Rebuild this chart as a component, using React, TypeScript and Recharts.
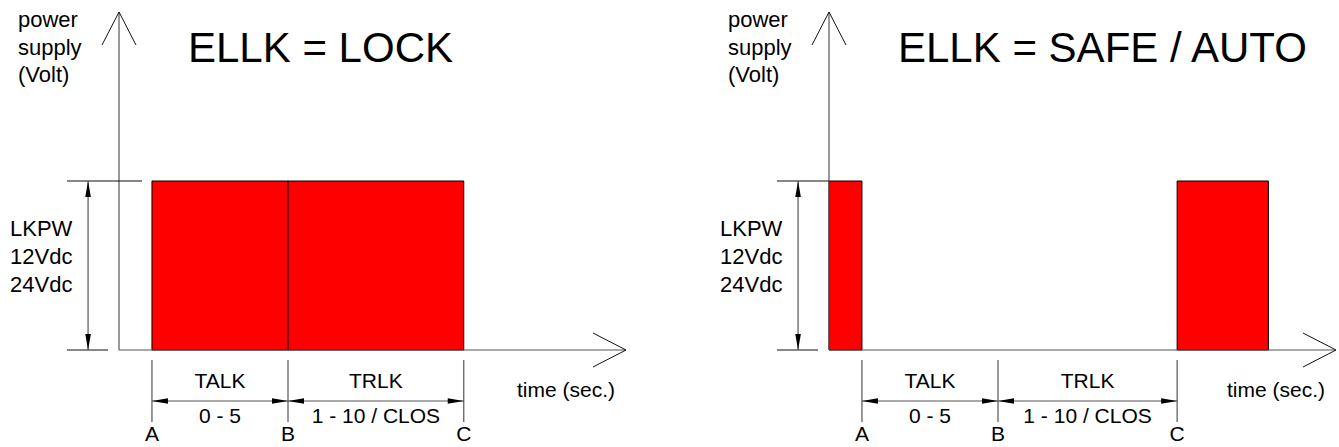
import { ComposedChart, ReferenceArea, ReferenceLine, XAxis, YAxis } from "recharts";

// time axis runs 0..T_MAX, voltage 0..V_MAX, pulse level LEVEL
const T_MAX = 30;
const V_MAX = 24;
const LEVEL = 12;

const MARK_NAMES = ["A", "B", "C"];
const LOCK_MARKS = [1.95, 10, 20.4];
const SAFE_MARKS = [1.95, 10, 20.6];

const LOCK_PULSES = [
  [1.95, 10],
  [10, 20.4],
];
const SAFE_PULSES = [
  [0, 1.95],
  [20.6, 26],
];

const SPAN_NAMES = ["TALK", "TRLK"];
const SPAN_RANGES = ["0 - 5", "1 - 10 / CLOS"];

const V_LABELS = ["LKPW", "12Vdc", "24Vdc"];
const Y_NAME = ["power", "supply", "(Volt)"];

// annotation placement (data units, outside the plot)
const EXT_START = -3.08;
const EXT_BOTTOM_END = -0.65;
const DIM_X = -1.83;
const TICK_TOP = -0.71;
const TICK_BOTTOM = -5.11;
const DIM_Y = -3.62;

const FONT = '"Liberation Sans", Arial, sans-serif';
const GRAY = "#555";
const RED = "#ff0000";

function OpenArrow(p: any) {
  const { x1, y1, x2, y2 } = p;
  const len = Math.hypot(x2 - x1, y2 - y1) || 1;
  const ux = (x2 - x1) / len;
  const uy = (y2 - y1) / len;
  const back = 33;
  const half = 17;
  const w1 = `${x2 - ux * back - uy * half},${y2 - uy * back + ux * half}`;
  const w2 = `${x2 - ux * back + uy * half},${y2 - uy * back - ux * half}`;
  return (
    <g>
      <line x1={x1} y1={y1} x2={x2} y2={y2} stroke={GRAY} strokeWidth={1.2} />
      <polyline points={`${w1} ${x2},${y2} ${w2}`} fill="none" stroke="#111" strokeWidth={1} />
    </g>
  );
}

function DimArrow(p: any) {
  const { x1, y1, x2, y2, top, bottom } = p;
  const len = Math.hypot(x2 - x1, y2 - y1) || 1;
  const ux = (x2 - x1) / len;
  const uy = (y2 - y1) / len;
  const L = 16;
  const W = 2.8;
  const head = (tx: number, ty: number, dir: number) =>
    `${tx},${ty} ${tx - dir * ux * L - uy * W},${ty - dir * uy * L + ux * W} ${tx - dir * ux * L + uy * W},${ty - dir * uy * L - ux * W}`;
  const mx = (x1 + x2) / 2;
  const my = (y1 + y2) / 2;
  return (
    <g>
      <line x1={x1} y1={y1} x2={x2} y2={y2} stroke={GRAY} strokeWidth={1.2} />
      <polygon points={head(x2, y2, 1)} fill="#000" />
      <polygon points={head(x1, y1, -1)} fill="#000" />
      {top && (
        <text x={mx} y={my - 13} textAnchor="middle" fontSize={21} fontFamily={FONT} fill="#000">
          {top}
        </text>
      )}
      {bottom && (
        <text x={mx} y={my + 22} textAnchor="middle" fontSize={21} fontFamily={FONT} fill="#000">
          {bottom}
        </text>
      )}
    </g>
  );
}

function Panel({
  left,
  width,
  title,
  marks,
  pulses,
  extTopEnd,
}: {
  left: number;
  width: number;
  title: string;
  marks: number[];
  pulses: number[][];
  extTopEnd: number;
}) {
  const data = marks.map((t) => ({ t }));
  const MarkTick = ({ x, payload }: any) => (
    <text x={x} y={441} textAnchor="middle" fontSize={21} fontFamily={FONT} fill="#000">
      {MARK_NAMES[marks.indexOf(payload.value)]}
    </text>
  );
  return (
    <div style={{ position: "absolute", left, top: 0, width, height: 447 }}>
      <ComposedChart
        width={width}
        height={447}
        data={data}
        margin={{ top: 12, right: width - 119 - 507, bottom: 0, left: 119 }}
      >
        <XAxis
          dataKey="t"
          type="number"
          domain={[0, T_MAX]}
          ticks={marks}
          interval={0}
          allowDataOverflow
          axisLine={false}
          tickLine={false}
          height={97}
          tick={<MarkTick />}
        />
        <YAxis type="number" domain={[0, V_MAX]} hide width={0} allowDataOverflow />

        <ReferenceLine segment={[{ x: 0, y: 0 }, { x: 0, y: V_MAX }]} ifOverflow="visible" shape={OpenArrow} />
        <ReferenceLine segment={[{ x: 0, y: 0 }, { x: T_MAX, y: 0 }]} ifOverflow="visible" shape={OpenArrow} />

        {pulses.map(([a, b], i) => (
          <ReferenceArea
            key={i}
            x1={a}
            x2={b}
            y1={0}
            y2={LEVEL}
            fill={RED}
            fillOpacity={1}
            stroke="#000"
            strokeWidth={1}
            ifOverflow="visible"
          />
        ))}

        {/* voltage dimension */}
        <ReferenceLine segment={[{ x: EXT_START, y: LEVEL }, { x: extTopEnd, y: LEVEL }]} ifOverflow="visible" stroke="#111" strokeWidth={1} />
        <ReferenceLine segment={[{ x: EXT_START, y: 0 }, { x: EXT_BOTTOM_END, y: 0 }]} ifOverflow="visible" stroke="#111" strokeWidth={1} />
        <ReferenceLine segment={[{ x: DIM_X, y: 0 }, { x: DIM_X, y: LEVEL }]} ifOverflow="visible" shape={DimArrow} />

        {/* time dimensions */}
        {marks.map((m, i) => (
          <ReferenceLine
            key={`tk${i}`}
            segment={[{ x: m, y: TICK_TOP }, { x: m, y: TICK_BOTTOM }]}
            ifOverflow="visible"
            stroke={GRAY}
            strokeWidth={1.2}
          />
        ))}
        {SPAN_NAMES.map((name, i) => (
          <ReferenceLine
            key={`sp${i}`}
            segment={[{ x: marks[i], y: DIM_Y }, { x: marks[i + 1], y: DIM_Y }]}
            ifOverflow="visible"
            shape={(p: any) => <DimArrow {...p} top={name} bottom={SPAN_RANGES[i]} />}
          />
        ))}
      </ComposedChart>
      <svg
        width={width}
        height={447}
        style={{ position: "absolute", left: 0, top: 0, pointerEvents: "none" }}
        fontFamily={FONT}
      >
        <text x={188} y={62} fontSize={42} fill="#000">
          {title}
        </text>
        {Y_NAME.map((s, i) => (
          <text key={s} x={18} y={27 + i * 27.5} fontSize={22} fill="#000">
            {s}
          </text>
        ))}
        {V_LABELS.map((s, i) => (
          <text key={s} x={10} y={236 + i * 28} fontSize={22} fill="#000">
            {s}
          </text>
        ))}
        <text x={517} y={397} fontSize={21} fill="#000">
          time (sec.)
        </text>
      </svg>
    </div>
  );
}

export default function App() {
  return (
    <div style={{ position: "absolute", left: 0, top: 0, width: 1339, height: 447, background: "#fff" }}>
      <Panel left={0} width={670} title="ELLK = LOCK" marks={LOCK_MARKS} pulses={LOCK_PULSES} extTopEnd={1.36} />
      <Panel left={710} width={629} title="ELLK = SAFE / AUTO" marks={SAFE_MARKS} pulses={SAFE_PULSES} extTopEnd={0} />
    </div>
  );
}
